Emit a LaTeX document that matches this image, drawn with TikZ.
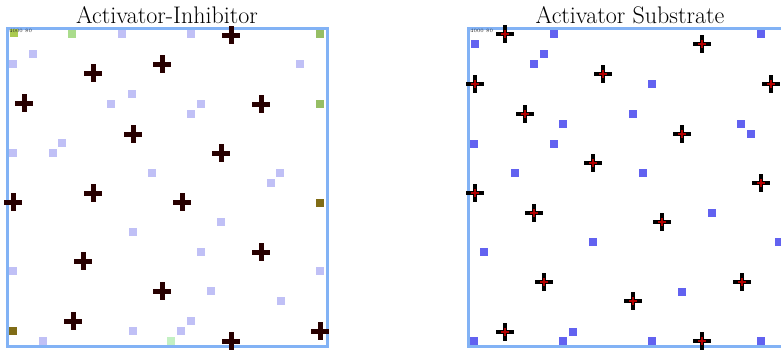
\documentclass[tikz,border=0pt]{standalone}
\usepackage{tikz}

\definecolor{framecol}{RGB}{130,178,245}
\definecolor{lavcol}{RGB}{192,192,246}
\definecolor{bluecol}{RGB}{98,98,240}
\definecolor{lgreen}{RGB}{170,220,140}
\definecolor{mgreen}{RGB}{150,190,100}
\definecolor{olive}{RGB}{128,108,22}
\definecolor{pgreen}{RGB}{195,240,195}
\definecolor{inkred}{RGB}{40,0,0}

\tikzset{
  frame/.style={draw=framecol,line width=3pt},
  title/.style={font=\fontsize{24}{29}\selectfont},
  counter/.style={font=\fontsize{5}{5}\selectfont,inner sep=0pt,anchor=west,text=black!85},
  patch/.pic={\fill (-3.8,-3.8) rectangle (3.8,3.8);},
  plusmark/.pic={
    \fill[inkred] (-9,-2.5) rectangle (9,2.5);
    \fill[inkred] (-2.5,-9) rectangle (2.5,9);
  },
  redplus/.pic={
    \fill[black] (-9,-2.4) rectangle (9,2.4);
    \fill[black] (-2.4,-9) rectangle (2.4,9);
    \fill[red!70!black] (-4,-1) rectangle (4,1);
    \fill[red!70!black] (-1,-4) rectangle (1,4);
  }
}

\begin{document}
\begin{tikzpicture}[x=1pt,y=-1pt]
\useasboundingbox (0,0) rectangle (781,349);

\node[title] (titleAI) at (167,15) {Activator-Inhibitor};
\node[title] (titleAS) at (630,15) {Activator Substrate};

\draw[frame] (7,28) rectangle (327,346);
\draw[frame] (781,28) -- (468,28) -- (468,346) -- (781,346);

\foreach \x/\y in {122/34,191/34,33/54,13/64,300/64,132/94,111/104,201/104,191/114,
  62/143,53/153,13/153,152/173,280/173,271/183,221/222,133/232,201/252,13/271,320/271,
  211/291,281/301,191/321,181/331,133/331,43/341}
  \pic[lavcol] at (\x,\y) {patch};
\pic[mgreen!80!yellow] at (14,33) {patch};
\pic[lgreen] at (72,34) {patch};
\pic[mgreen] at (320,34) {patch};
\pic[mgreen] at (320,104) {patch};
\pic[olive] at (320,203) {patch};
\pic[olive] at (13,331) {patch};
\pic[pgreen] at (171,341) {patch};

\foreach \x/\y in {475/44,554/34,761/34,544/54,534/64,652/84,633/114,563/124,741/124,
  751/134,474/144,554/144,515/173,643/173,712/213,593/242,779/242,484/252,682/292,
  573/332,563/341,474/341,652/341,761/341}
  \pic[bluecol] at (\x,\y) {patch};

\node[counter] (countAI) at (9,31) {4000 80};
\node[counter] (countAS) at (470,31) {4000 80};

\foreach \x/\y in {231/35,162/64,93/73,24/103,261/104,133/134,221/153,93/193,13/202,
  182/202,261/252,83/261,162/291,73/321,320/331,231/341}
  \pic at (\x,\y) {plusmark};

\foreach \x/\y in {505/34,702/44,603/74,475/84,771/84,525/114,682/134,593/163,761/183,
  475/193,534/213,662/222,544/282,742/282,633/301,505/332,702/341}
  \pic at (\x,\y) {redplus};
\end{tikzpicture}
\end{document}
